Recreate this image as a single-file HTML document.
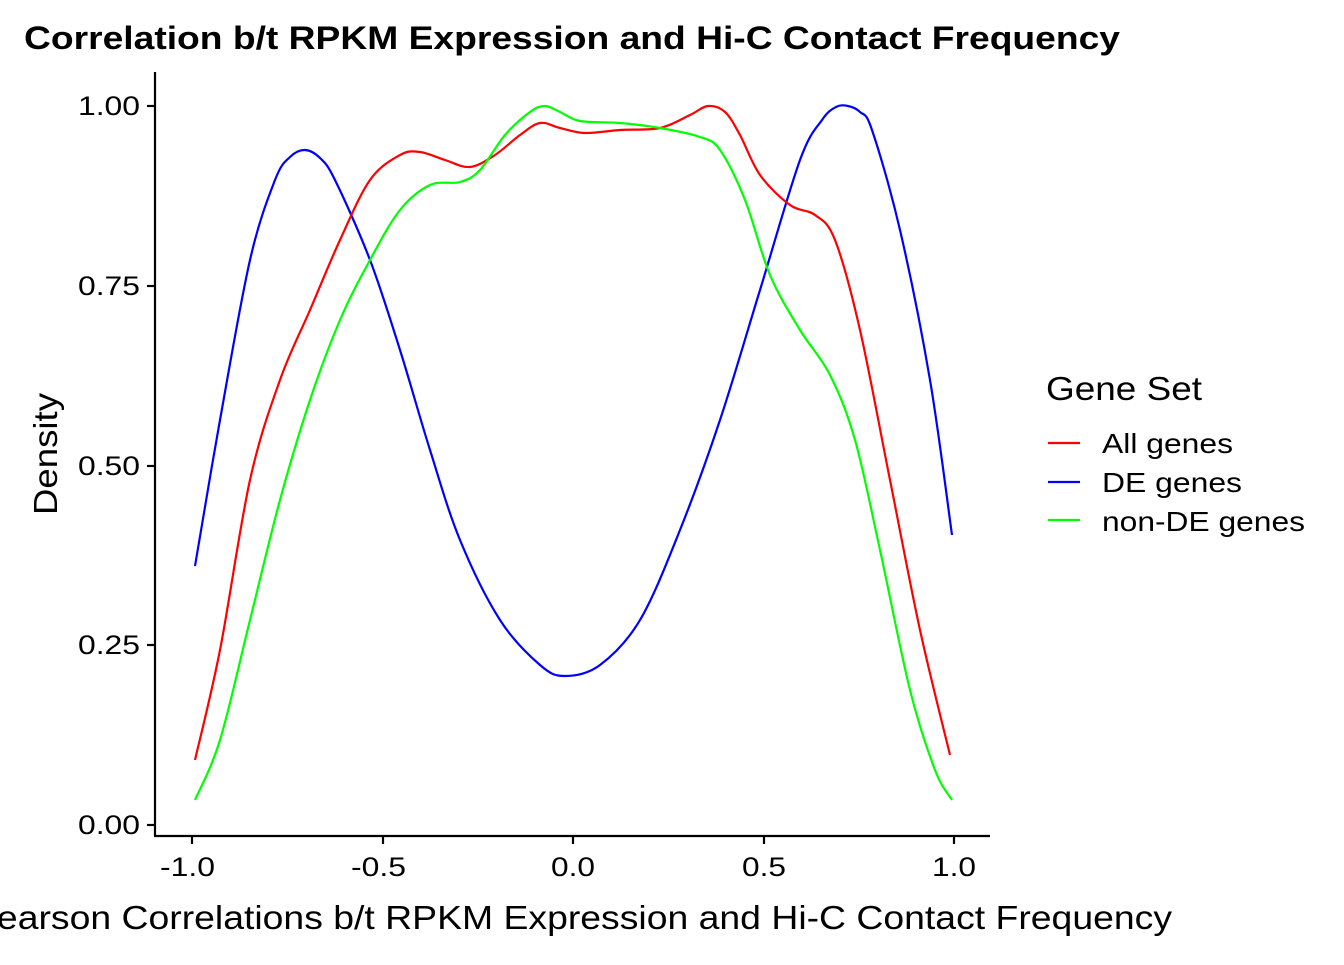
<!DOCTYPE html>
<html><head><meta charset="utf-8"><style>html,body{margin:0;padding:0;background:#fff}</style></head>
<body>
<svg width="1344" height="960" xmlns="http://www.w3.org/2000/svg" font-family="Liberation Sans, Arial, sans-serif">
<rect width="1344" height="960" fill="#fff"/>
<text x="24" y="49" font-size="32" font-weight="bold" textLength="1096" lengthAdjust="spacingAndGlyphs">Correlation b/t RPKM Expression and Hi-C Contact Frequency</text>
<g stroke="#000" stroke-width="2.2" fill="none">
<line x1="155" y1="72" x2="155" y2="836"/>
<line x1="154" y1="836" x2="990" y2="836"/>
<line x1="147" y1="106" x2="155" y2="106"/><line x1="147" y1="286" x2="155" y2="286"/><line x1="147" y1="466" x2="155" y2="466"/><line x1="147" y1="645" x2="155" y2="645"/><line x1="147" y1="825" x2="155" y2="825"/>
<line x1="192" y1="836" x2="192" y2="844"/><line x1="383" y1="836" x2="383" y2="844"/><line x1="573" y1="836" x2="573" y2="844"/><line x1="764" y1="836" x2="764" y2="844"/><line x1="954" y1="836" x2="954" y2="844"/>
</g>
<g font-size="27" fill="#000" text-anchor="end">
<text x="140" y="115" textLength="62" lengthAdjust="spacingAndGlyphs">1.00</text><text x="140" y="295" textLength="62" lengthAdjust="spacingAndGlyphs">0.75</text><text x="140" y="475" textLength="62" lengthAdjust="spacingAndGlyphs">0.50</text><text x="140" y="654" textLength="62" lengthAdjust="spacingAndGlyphs">0.25</text><text x="140" y="834" textLength="62" lengthAdjust="spacingAndGlyphs">0.00</text>
</g>
<g font-size="27" fill="#000">
<text x="160" y="876" textLength="55" lengthAdjust="spacingAndGlyphs">-1.0</text>
<text x="351" y="876" textLength="55" lengthAdjust="spacingAndGlyphs">-0.5</text>
<text x="551" y="876" textLength="44" lengthAdjust="spacingAndGlyphs">0.0</text>
<text x="742" y="876" textLength="44" lengthAdjust="spacingAndGlyphs">0.5</text>
<text x="932" y="876" textLength="44" lengthAdjust="spacingAndGlyphs">1.0</text>
</g>
<text x="-28" y="929" font-size="33" textLength="1200" lengthAdjust="spacingAndGlyphs">Pearson Correlations b/t RPKM Expression and Hi-C Contact Frequency</text>
<text transform="translate(57,454) rotate(-90)" font-size="33" text-anchor="middle" textLength="122" lengthAdjust="spacingAndGlyphs">Density</text>
<g fill="none" stroke-width="2.2" stroke-linejoin="round">
<path id="b" stroke="#0000ff"/>
<path id="r" stroke="#ff0000"/>
<path id="g" stroke="#00ff00"/>
</g>
<text x="1046" y="400" font-size="33" textLength="156" lengthAdjust="spacingAndGlyphs">Gene Set</text>
<g stroke-width="2.2">
<line x1="1048" y1="443" x2="1080" y2="443" stroke="#ff0000"/>
<line x1="1048" y1="482" x2="1080" y2="482" stroke="#0000ff"/>
<line x1="1048" y1="520" x2="1080" y2="520" stroke="#00ff00"/>
</g>
<g font-size="28">
<text x="1102" y="453" textLength="131" lengthAdjust="spacingAndGlyphs">All genes</text>
<text x="1102" y="492" textLength="140" lengthAdjust="spacingAndGlyphs">DE genes</text>
<text x="1102" y="531" textLength="203" lengthAdjust="spacingAndGlyphs">non-DE genes</text>
</g>
</svg>
<script>
function sm(s){var a=s.trim().split(/\s+/).map(function(p){return p.split(',').map(Number)});
var d='M'+a[0][0]+','+a[0][1];
for(var i=0;i<a.length-1;i++){var p0=a[i-1]||a[i],p1=a[i],p2=a[i+1],p3=a[i+2]||a[i+1];
var c1=[p1[0]+(p2[0]-p0[0])/6,p1[1]+(p2[1]-p0[1])/6],c2=[p2[0]-(p3[0]-p1[0])/6,p2[1]-(p3[1]-p1[1])/6];
d+=' C'+c1+' '+c2+' '+p2;}return d;}
document.getElementById('b').setAttribute('d',sm("195,566 220,420 250,260 275,180 290,157 305,150 320,158 335,180 370,260 400,350 430,450 460,540 500,620 540,665 565,676 600,665 640,620 680,530 720,420 760,290 800,160 822,120 836,107 848,106 860,112 872,130 900,230 930,380 952,535"));
document.getElementById('r').setAttribute('d',sm("195,760 220,650 250,480 280,380 310,310 340,240 370,180 400,155 420,152 445,160 470,167 495,155 520,135 540,123 560,128 585,133 620,130 660,128 690,115 708,106 725,112 740,135 760,175 790,205 815,215 835,240 860,330 890,480 920,630 950,755"));
document.getElementById('g').setAttribute('d',sm("195,800 220,740 250,620 280,500 310,400 340,320 370,260 400,210 430,185 460,182 480,170 505,135 530,112 545,106 560,112 580,121 620,123 660,128 700,137 720,150 745,200 770,275 800,330 830,375 855,440 880,550 910,690 935,770 952,800"));
</script>
</body></html>
